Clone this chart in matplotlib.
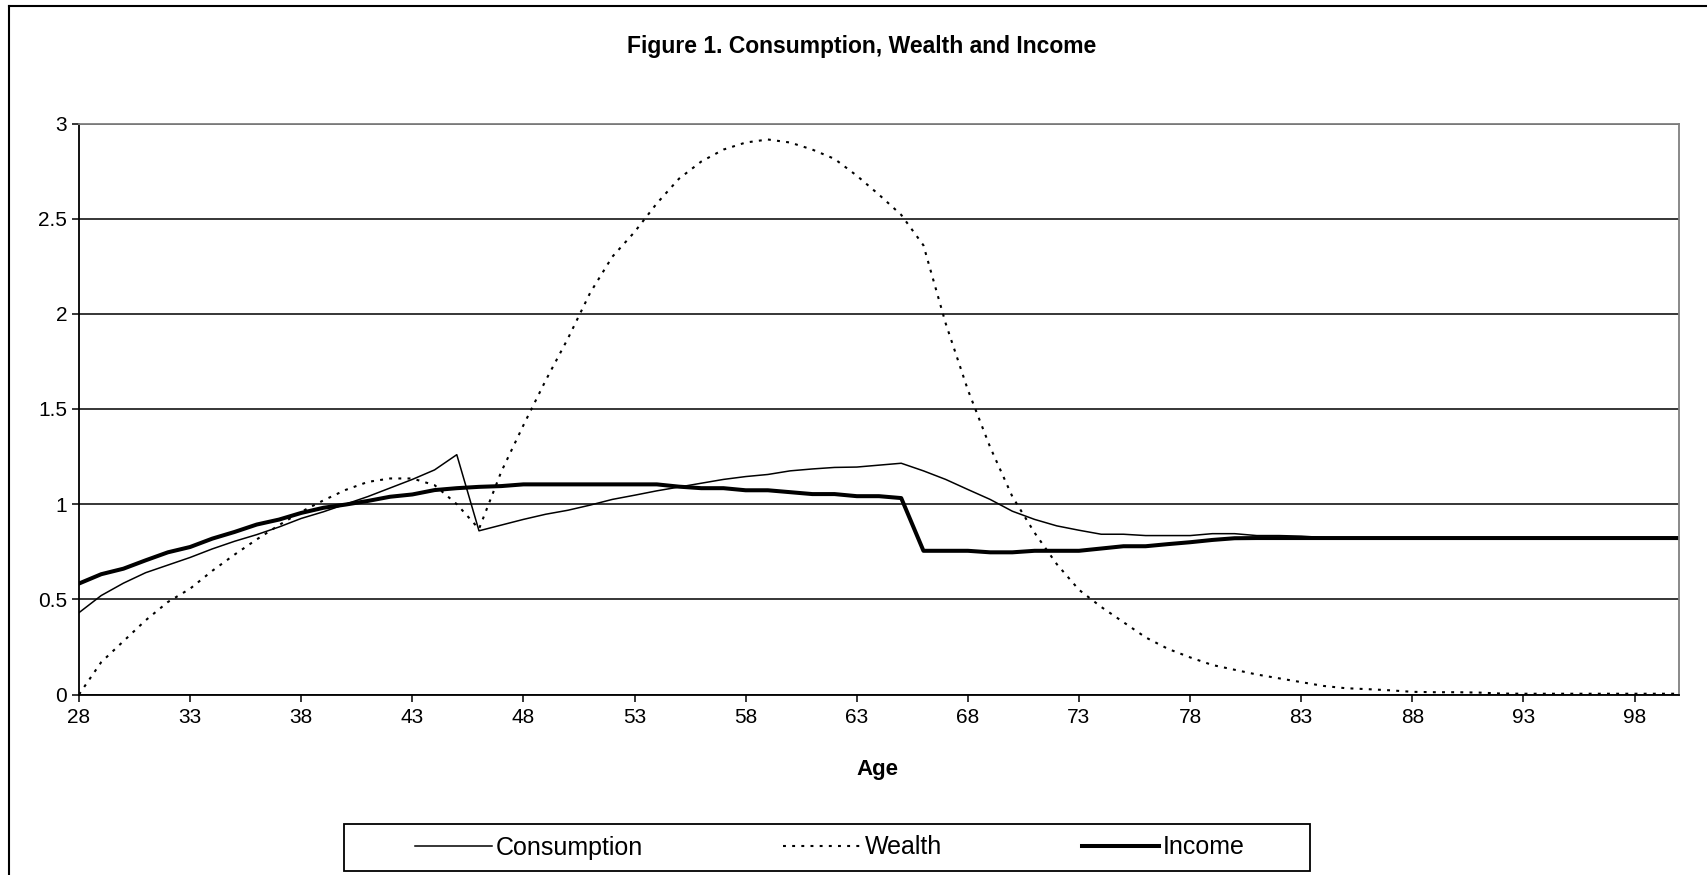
import numpy as np
import matplotlib.pyplot as plt
from matplotlib.lines import Line2D
from matplotlib.patches import Rectangle

plt.rcParams['font.family'] = ['Liberation Sans', 'DejaVu Sans']

edades = list(range(28, 101))

consumo = [0.43, 0.52, 0.585, 0.64, 0.68, 0.72, 0.765, 0.805, 0.84, 0.88,
           0.925, 0.96, 1.0, 1.04, 1.085, 1.13, 1.18, 1.26, 0.86, 0.89,
           0.92, 0.947, 0.968, 0.995, 1.025, 1.047, 1.07, 1.09, 1.11, 1.13,
           1.145, 1.156, 1.175, 1.185, 1.193, 1.195, 1.205, 1.215, 1.175, 1.13,
           1.077, 1.025, 0.963, 0.92, 0.886, 0.863, 0.842, 0.842, 0.835, 0.835,
           0.835, 0.845, 0.845, 0.835, 0.835, 0.832, 0.825] + [0.822] * 16

riqueza = [0.0, 0.17, 0.28, 0.39, 0.486, 0.556, 0.65, 0.735, 0.815, 0.89,
           0.96, 1.02, 1.075, 1.117, 1.135, 1.135, 1.10, 1.0, 0.87, 1.17,
           1.415, 1.65, 1.87, 2.11, 2.30, 2.43, 2.58, 2.71, 2.80, 2.863,
           2.90, 2.916, 2.90, 2.863, 2.814, 2.726, 2.626, 2.52, 2.36, 1.95,
           1.60, 1.30, 1.04, 0.85, 0.685, 0.55, 0.46, 0.38, 0.30, 0.24,
           0.195, 0.155, 0.13, 0.105, 0.085, 0.065, 0.045, 0.033, 0.028, 0.022,
           0.014, 0.012, 0.012, 0.01, 0.005] + [0.004] * 8

ingreso = [0.583, 0.632, 0.661, 0.705, 0.747, 0.775, 0.819, 0.854, 0.893, 0.919,
           0.954, 0.981, 0.998, 1.017, 1.039, 1.051, 1.074, 1.084, 1.091, 1.095,
           1.104, 1.104, 1.104, 1.104, 1.104, 1.104, 1.104, 1.092, 1.084, 1.084,
           1.073, 1.073, 1.063, 1.053, 1.053, 1.042, 1.042, 1.032, 0.755, 0.755,
           0.755, 0.747, 0.747, 0.755, 0.755, 0.755, 0.767, 0.779, 0.779, 0.79,
           0.80, 0.812, 0.821] + [0.822] * 20

ticks_x = list(range(28, 100, 5))
ticks_y = [0, 0.5, 1, 1.5, 2, 2.5, 3]
etiquetas_y = ['0', '0.5', '1', '1.5', '2', '2.5', '3']

fig = plt.figure(figsize=(17.07, 8.75), dpi=100)
ax = fig.add_axes([79 / 1707, 1 - 694.5 / 875, 1600 / 1707, 571 / 875])

ax.plot(edades, consumo, color='black', lw=1.1, label='Consumption')
ax.plot(edades, riqueza, color='black', lw=1.5, linestyle=(0, (1.4, 3)), label='Wealth')
ax.plot(edades, ingreso, color='black', lw=2.9, label='Income')

ax.set_xlim(28, 100)
ax.set_ylim(0, 3)
ax.set_xticks(ticks_x)
ax.set_yticks(ticks_y)
ax.set_yticklabels(etiquetas_y)
ax.tick_params(direction='out', length=5, width=1.1, labelsize=15, colors='black')
ax.tick_params(axis='x', pad=5)
ax.yaxis.grid(True, color='black', lw=1.1)
ax.set_axisbelow(True)

for lado in ['left', 'bottom']:
    ax.spines[lado].set_linewidth(1.3)
    ax.spines[lado].set_color('black')
for lado in ['top', 'right']:
    ax.spines[lado].set_linewidth(1.3)
    ax.spines[lado].set_color('#808080')

fig.text(877 / 1707, 1 - 770 / 875, 'Age', ha='center', va='center',
         fontsize=16, fontweight='bold')

fig.text(0.505, 1 - 47 / 875, 'Figure 1. Consumption, Wealth and Income',
         ha='center', va='center', fontsize=16.5, fontweight='bold')

# marco exterior (recortado a la derecha y abajo)
fig.add_artist(Line2D([9 / 1707, 9 / 1707], [0, 1 - 6 / 875], color='black', lw=1.5))
fig.add_artist(Line2D([9 / 1707, 1], [1 - 6 / 875, 1 - 6 / 875], color='black', lw=1.5))

# caja de la leyenda
fig.add_artist(Rectangle((344 / 1707, 4 / 875), 966 / 1707, 47 / 875,
                         transform=fig.transFigure, fill=False,
                         edgecolor='black', lw=1.3))
leg = fig.legend(loc='center', ncol=3, bbox_to_anchor=(830 / 1707, 27.5 / 875),
                 frameon=False, fontsize=18, handlelength=3.1,
                 handletextpad=0.15, columnspacing=5.6)

fig.savefig('out.png', dpi=100)
